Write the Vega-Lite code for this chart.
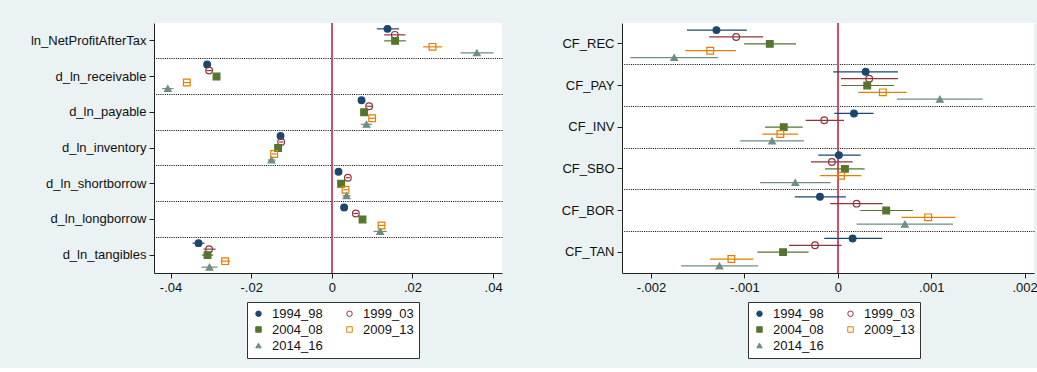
{
  "$schema": "https://vega.github.io/schema/vega-lite/v6.json",
  "background": "#eaf2f3",
  "padding": {"left": 7, "top": 22, "right": 0, "bottom": 9},
  "config": {
    "font": "Liberation Sans",
    "view": {"fill": "white", "stroke": null},
    "axis": {
      "labelFont": "Liberation Sans",
      "labelFontSize": 13,
      "labelColor": "#111111",
      "domainColor": "#222222",
      "tickColor": "#222222",
      "tickSize": 5,
      "domainWidth": 1,
      "tickWidth": 1,
      "grid": false,
      "title": null
    },
    "legend": {
      "labelFont": "Liberation Sans",
      "labelFontSize": 13,
      "labelColor": "#111111"
    }
  },
  "datasets": {
    "levels": [
      {"var": "ln_NetProfitAfterTax", "period": "1994_98", "b": 0.01381, "lo": 0.01116, "hi": 0.01669},
      {"var": "ln_NetProfitAfterTax", "period": "1999_03", "b": 0.01562, "lo": 0.01297, "hi": 0.01828},
      {"var": "ln_NetProfitAfterTax", "period": "2004_08", "b": 0.0157, "lo": 0.01297, "hi": 0.01835},
      {"var": "ln_NetProfitAfterTax", "period": "2009_13", "b": 0.02497, "lo": 0.02264, "hi": 0.02735},
      {"var": "ln_NetProfitAfterTax", "period": "2014_16", "b": 0.03596, "lo": 0.03192, "hi": 0.0401},
      {"var": "d_ln_receivable", "period": "1994_98", "b": -0.03092, "lo": -0.03152, "hi": -0.03032},
      {"var": "d_ln_receivable", "period": "1999_03", "b": -0.03043, "lo": -0.03113, "hi": -0.02973},
      {"var": "d_ln_receivable", "period": "2004_08", "b": -0.02859, "lo": -0.02919, "hi": -0.02799},
      {"var": "d_ln_receivable", "period": "2009_13", "b": -0.03596, "lo": -0.03676, "hi": -0.03516},
      {"var": "d_ln_receivable", "period": "2014_16", "b": -0.04067, "lo": -0.04207, "hi": -0.03927},
      {"var": "d_ln_payable", "period": "1994_98", "b": 0.00737, "lo": 0.00677, "hi": 0.00797},
      {"var": "d_ln_payable", "period": "1999_03", "b": 0.00925, "lo": 0.00855, "hi": 0.00995},
      {"var": "d_ln_payable", "period": "2004_08", "b": 0.00801, "lo": 0.00741, "hi": 0.00861},
      {"var": "d_ln_payable", "period": "2009_13", "b": 0.01, "lo": 0.0092, "hi": 0.0108},
      {"var": "d_ln_payable", "period": "2014_16", "b": 0.0086, "lo": 0.0072, "hi": 0.01},
      {"var": "d_ln_inventory", "period": "1994_98", "b": -0.01272, "lo": -0.01312, "hi": -0.01232},
      {"var": "d_ln_inventory", "period": "1999_03", "b": -0.01257, "lo": -0.01307, "hi": -0.01207},
      {"var": "d_ln_inventory", "period": "2004_08", "b": -0.01332, "lo": -0.01382, "hi": -0.01282},
      {"var": "d_ln_inventory", "period": "2009_13", "b": -0.01431, "lo": -0.01491, "hi": -0.01371},
      {"var": "d_ln_inventory", "period": "2014_16", "b": -0.01495, "lo": -0.01595, "hi": -0.01395},
      {"var": "d_ln_shortborrow", "period": "1994_98", "b": 0.00166, "lo": 0.00126, "hi": 0.00206},
      {"var": "d_ln_shortborrow", "period": "1999_03", "b": 0.00397, "lo": 0.00347, "hi": 0.00447},
      {"var": "d_ln_shortborrow", "period": "2004_08", "b": 0.00231, "lo": 0.00181, "hi": 0.00281},
      {"var": "d_ln_shortborrow", "period": "2009_13", "b": 0.0034, "lo": 0.0028, "hi": 0.004},
      {"var": "d_ln_shortborrow", "period": "2014_16", "b": 0.00365, "lo": 0.00265, "hi": 0.00465},
      {"var": "d_ln_longborrow", "period": "1994_98", "b": 0.00305, "lo": 0.00255, "hi": 0.00355},
      {"var": "d_ln_longborrow", "period": "1999_03", "b": 0.00595, "lo": 0.00535, "hi": 0.00655},
      {"var": "d_ln_longborrow", "period": "2004_08", "b": 0.00761, "lo": 0.00701, "hi": 0.00821},
      {"var": "d_ln_longborrow", "period": "2009_13", "b": 0.01232, "lo": 0.01142, "hi": 0.01322},
      {"var": "d_ln_longborrow", "period": "2014_16", "b": 0.01198, "lo": 0.01033, "hi": 0.01363},
      {"var": "d_ln_tangibles", "period": "1994_98", "b": -0.03306, "lo": -0.03455, "hi": -0.03157},
      {"var": "d_ln_tangibles", "period": "1999_03", "b": -0.03043, "lo": -0.03182, "hi": -0.02884},
      {"var": "d_ln_tangibles", "period": "2004_08", "b": -0.03083, "lo": -0.03224, "hi": -0.02943},
      {"var": "d_ln_tangibles", "period": "2009_13", "b": -0.02646, "lo": -0.02753, "hi": -0.02522},
      {"var": "d_ln_tangibles", "period": "2014_16", "b": -0.03033, "lo": -0.03231, "hi": -0.02834}
    ],
    "flows": [
      {"var": "CF_REC", "period": "1994_98", "b": -0.001299, "lo": -0.001615, "hi": -0.000974},
      {"var": "CF_REC", "period": "1999_03", "b": -0.001088, "lo": -0.001377, "hi": -0.0008},
      {"var": "CF_REC", "period": "2004_08", "b": -0.000728, "lo": -0.001003, "hi": -0.000447},
      {"var": "CF_REC", "period": "2009_13", "b": -0.001366, "lo": -0.001633, "hi": -0.001092},
      {"var": "CF_REC", "period": "2014_16", "b": -0.001751, "lo": -0.002221, "hi": -0.001281},
      {"var": "CF_PAY", "period": "1994_98", "b": 0.000298, "lo": -0.000049, "hi": 0.000643},
      {"var": "CF_PAY", "period": "1999_03", "b": 0.000336, "lo": 0.000034, "hi": 0.000643},
      {"var": "CF_PAY", "period": "2004_08", "b": 0.000315, "lo": 0.000037, "hi": 0.0006},
      {"var": "CF_PAY", "period": "2009_13", "b": 0.000482, "lo": 0.000219, "hi": 0.000736},
      {"var": "CF_PAY", "period": "2014_16", "b": 0.001092, "lo": 0.000632, "hi": 0.001551},
      {"var": "CF_INV", "period": "1994_98", "b": 0.000173, "lo": -0.000038, "hi": 0.000383},
      {"var": "CF_INV", "period": "1999_03", "b": -0.000145, "lo": -0.000344, "hi": 0.000066},
      {"var": "CF_INV", "period": "2004_08", "b": -0.000579, "lo": -0.000779, "hi": -0.000376},
      {"var": "CF_INV", "period": "2009_13", "b": -0.000615, "lo": -0.000807, "hi": -0.000426},
      {"var": "CF_INV", "period": "2014_16", "b": -0.000704, "lo": -0.001046, "hi": -0.000362},
      {"var": "CF_SBO", "period": "1994_98", "b": 0.000012, "lo": -0.000209, "hi": 0.000244},
      {"var": "CF_SBO", "period": "1999_03", "b": -0.000063, "lo": -0.000287, "hi": 0.000159},
      {"var": "CF_SBO", "period": "2004_08", "b": 0.000076, "lo": -0.000137, "hi": 0.000287},
      {"var": "CF_SBO", "period": "2009_13", "b": 0.000034, "lo": -0.000188, "hi": 0.000251},
      {"var": "CF_SBO", "period": "2014_16", "b": -0.000455, "lo": -0.000832, "hi": -0.000076},
      {"var": "CF_BOR", "period": "1994_98", "b": -0.000191, "lo": -0.000461, "hi": 0.000087},
      {"var": "CF_BOR", "period": "1999_03", "b": 0.000201, "lo": -0.000081, "hi": 0.000479},
      {"var": "CF_BOR", "period": "2004_08", "b": 0.000518, "lo": 0.00024, "hi": 0.000803},
      {"var": "CF_BOR", "period": "2009_13", "b": 0.000967, "lo": 0.000682, "hi": 0.001259},
      {"var": "CF_BOR", "period": "2014_16", "b": 0.000718, "lo": 0.000201, "hi": 0.001234},
      {"var": "CF_TAN", "period": "1994_98", "b": 0.000159, "lo": -0.000145, "hi": 0.000475},
      {"var": "CF_TAN", "period": "1999_03", "b": -0.000244, "lo": -0.000522, "hi": 0.000041},
      {"var": "CF_TAN", "period": "2004_08", "b": -0.000586, "lo": -0.000861, "hi": -0.000312},
      {"var": "CF_TAN", "period": "2009_13", "b": -0.001139, "lo": -0.001366, "hi": -0.000904},
      {"var": "CF_TAN", "period": "2014_16", "b": -0.001267, "lo": -0.001676, "hi": -0.000853}
    ]
  },
  "hconcat": [
    {
      "width": 348,
      "height": 250,
      "data": {"name": "levels"},
      "resolve": {"axis": {"y": "independent"}},
      "layer": [
        {
          "mark": {"type": "rule", "color": "#d0506a", "strokeWidth": 1.3},
          "encoding": {"x": {"datum": 0, "type": "quantitative"}}
        },
        {
          "mark": {"type": "rule", "strokeWidth": 1.2},
          "encoding": {
            "y": {
              "field": "var", "type": "nominal",
              "sort": ["ln_NetProfitAfterTax", "d_ln_receivable", "d_ln_payable", "d_ln_inventory", "d_ln_shortborrow", "d_ln_longborrow", "d_ln_tangibles"],
              "scale": {"paddingInner": 0, "paddingOuter": 0},
              "axis": {
                "orient": "right", "grid": true, "bandPosition": 0,
                "values": ["d_ln_receivable", "d_ln_payable", "d_ln_inventory", "d_ln_shortborrow", "d_ln_longborrow", "d_ln_tangibles"],
                "ticks": false, "labels": false, "domain": false,
                "gridDash": [1, 1.2], "gridColor": "#000000", "gridWidth": 1,
                "minExtent": 0, "maxExtent": 0
              }
            },
            "yOffset": {"field": "period", "type": "nominal", "scale": {"paddingInner": 0, "paddingOuter": 0.475}},
            "x": {"field": "lo", "type": "quantitative"},
            "x2": {"field": "hi"},
            "color": {
              "field": "period", "type": "nominal", "legend": null,
              "scale": {"range": ["#1a476f", "#90353b", "#55752f", "#e37e00", "#6e8e84"]}
            }
          }
        },
        {
          "mark": {"type": "point", "opacity": 1, "size": 45, "strokeWidth": 1.2},
          "encoding": {
            "y": {
              "field": "var", "type": "nominal",
              "sort": ["ln_NetProfitAfterTax", "d_ln_receivable", "d_ln_payable", "d_ln_inventory", "d_ln_shortborrow", "d_ln_longborrow", "d_ln_tangibles"],
              "axis": {"orient": "left", "labelPadding": 3, "minExtent": 147, "maxExtent": 147}
            },
            "yOffset": {"field": "period", "type": "nominal"},
            "x": {
              "field": "b", "type": "quantitative",
              "scale": {"domain": [-0.0441, 0.0422], "nice": false, "zero": false},
              "axis": {
                "values": [-0.04, -0.02, 0, 0.02, 0.04],
                "labelPadding": 3,
                "labelExpr": "datum.value == 0 ? '0' : (datum.value < 0 ? '-' : '') + replace(format(abs(datum.value), '.2f'), '0.', '.')"
              }
            },
            "stroke": {
              "field": "period", "type": "nominal",
              "scale": {"domain": ["1994_98", "1999_03", "2004_08", "2009_13", "2014_16"], "range": ["#1a476f", "#90353b", "#55752f", "#e37e00", "#6e8e84"]},
              "legend": {"orient": "none", "legendX": 93, "legendY": 279, "direction": "horizontal", "columns": 2, "title": null, "strokeColor": "#333333", "fillColor": "white", "padding": 5, "rowPadding": 2, "columnPadding": 20, "labelOffset": 7, "symbolSize": 30, "symbolStrokeWidth": 1}
            },
            "fill": {
              "field": "period", "type": "nominal",
              "scale": {"domain": ["1994_98", "1999_03", "2004_08", "2009_13", "2014_16"], "range": ["#1a476f", "transparent", "#55752f", "transparent", "#6e8e84"]}
            },
            "shape": {
              "field": "period", "type": "nominal",
              "scale": {"domain": ["1994_98", "1999_03", "2004_08", "2009_13", "2014_16"], "range": ["circle", "circle", "square", "square", "triangle-up"]}
            }
          }
        }
      ]
    },
    {
      "width": 412,
      "height": 250,
      "data": {"name": "flows"},
      "resolve": {"axis": {"y": "independent"}},
      "layer": [
        {
          "mark": {"type": "rule", "color": "#d0506a", "strokeWidth": 1.3},
          "encoding": {"x": {"datum": 0, "type": "quantitative"}}
        },
        {
          "mark": {"type": "rule", "strokeWidth": 1.2},
          "encoding": {
            "y": {
              "field": "var", "type": "nominal",
              "sort": ["CF_REC", "CF_PAY", "CF_INV", "CF_SBO", "CF_BOR", "CF_TAN"],
              "scale": {"paddingInner": 0, "paddingOuter": 0},
              "axis": {
                "orient": "right", "grid": true, "bandPosition": 0,
                "values": ["CF_PAY", "CF_INV", "CF_SBO", "CF_BOR", "CF_TAN"],
                "ticks": false, "labels": false, "domain": false,
                "gridDash": [1, 1.2], "gridColor": "#000000", "gridWidth": 1,
                "minExtent": 0, "maxExtent": 0
              }
            },
            "yOffset": {"field": "period", "type": "nominal", "scale": {"paddingInner": 0, "paddingOuter": 0.536}},
            "x": {"field": "lo", "type": "quantitative"},
            "x2": {"field": "hi"},
            "color": {
              "field": "period", "type": "nominal", "legend": null,
              "scale": {"range": ["#1a476f", "#90353b", "#55752f", "#e37e00", "#6e8e84"]}
            }
          }
        },
        {
          "mark": {"type": "point", "opacity": 1, "size": 45, "strokeWidth": 1.2},
          "encoding": {
            "y": {
              "field": "var", "type": "nominal",
              "sort": ["CF_REC", "CF_PAY", "CF_INV", "CF_SBO", "CF_BOR", "CF_TAN"],
              "axis": {"orient": "left", "labelPadding": 3, "minExtent": 80, "maxExtent": 80}
            },
            "yOffset": {"field": "period", "type": "nominal"},
            "x": {
              "field": "b", "type": "quantitative",
              "scale": {"domain": [-0.00231, 0.0021], "nice": false, "zero": false},
              "axis": {
                "values": [-0.002, -0.001, 0, 0.001, 0.002],
                "labelPadding": 3,
                "labelExpr": "datum.value == 0 ? '0' : (datum.value < 0 ? '-' : '') + replace(format(abs(datum.value), '.3f'), '0.', '.')"
              }
            },
            "stroke": {
              "field": "period", "type": "nominal",
              "scale": {"domain": ["1994_98", "1999_03", "2004_08", "2009_13", "2014_16"], "range": ["#1a476f", "#90353b", "#55752f", "#e37e00", "#6e8e84"]},
              "legend": {"orient": "none", "legendX": 126, "legendY": 279, "direction": "horizontal", "columns": 2, "title": null, "strokeColor": "#333333", "fillColor": "white", "padding": 5, "rowPadding": 2, "columnPadding": 20, "labelOffset": 7, "symbolSize": 30, "symbolStrokeWidth": 1}
            },
            "fill": {
              "field": "period", "type": "nominal",
              "scale": {"domain": ["1994_98", "1999_03", "2004_08", "2009_13", "2014_16"], "range": ["#1a476f", "transparent", "#55752f", "transparent", "#6e8e84"]}
            },
            "shape": {
              "field": "period", "type": "nominal",
              "scale": {"domain": ["1994_98", "1999_03", "2004_08", "2009_13", "2014_16"], "range": ["circle", "circle", "square", "square", "triangle-up"]}
            }
          }
        }
      ]
    }
  ],
  "spacing": 120,
  "bounds": "flush",
  "resolve": {
    "scale": {"x": "independent", "y": "independent", "yOffset": "independent", "color": "independent", "stroke": "independent", "fill": "independent", "shape": "independent"},
    "legend": {"stroke": "independent", "fill": "independent", "shape": "independent"}
  }
}
